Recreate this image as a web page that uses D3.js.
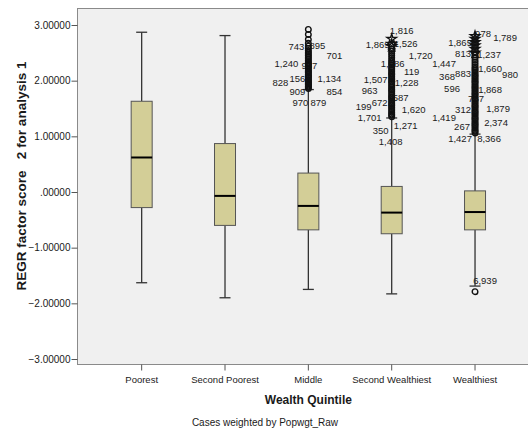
<!DOCTYPE html>
<html>
    <head>
        <title>Boxplot</title>
        <meta charset="utf-8">
        <style>
            html, body {
                margin: 0px;
                padding: 0px;
                background-color: #fff;
                font-family: Arial, "Liberation Sans", sans-serif;
            }

            svg text {
                fill: #1a1a1a;
            }

            .frame {
                fill: #f0f0f0;
                stroke: #8a8a8a;
            }

            .box {
                fill: #d3ce97;
                stroke: #555;
                stroke-width: 1;
            }

            .median {
                stroke: #000;
                stroke-width: 2;
            }

            .whisker {
                stroke: #333;
                stroke-width: 1.3;
            }

            .outlier {
                fill: none;
                stroke: #111;
                stroke-width: 1.4;
            }

            .caseLabel {
                font-size: 9.5px;
            }

            .tick line {
                stroke: #555;
            }

            .axisTitle {
                font-size: 12px;
                font-weight: bold;
            }
        </style>
        <script src="https://cdn.jsdelivr.net/npm/d3@7"></script>
    </head>
    <body>
        <div id="main">
        </div>

        <script>
            var quintiles = ["Poorest", "Second Poorest", "Middle", "Second Wealthiest", "Wealthiest"];
            var lowWhisker = [-1.63, -1.90, -1.75, -1.83, -1.69];
            var q1 = [-0.28, -0.60, -0.68, -0.75, -0.68];
            var medians = [0.62, -0.07, -0.25, -0.37, -0.36];
            var q3 = [1.63, 0.87, 0.34, 0.10, 0.02];
            var highWhisker = [2.87, 2.81, 1.84, 1.33, 1.04];
            var yTicks = [-3, -2, -1, 0, 1, 2, 3];

            // outliers drawn as circles, extremes as stars
            var outliers = [
                [],
                [],
                [1.86, 1.88, 1.90, 1.92, 1.94, 1.96, 1.98, 2.00, 2.02, 2.05, 2.07, 2.09, 2.11, 2.14, 2.16, 2.18,
                 2.21, 2.23, 2.26, 2.28, 2.31, 2.33, 2.36, 2.39, 2.42, 2.45, 2.48, 2.51, 2.54, 2.58, 2.62, 2.67,
                 2.74, 2.83, 2.92],
                [1.35, 1.38, 1.40, 1.43, 1.46, 1.49, 1.52, 1.55, 1.57, 1.60, 1.63, 1.66, 1.69, 1.71, 1.74, 1.77,
                 1.80, 1.83, 1.85, 1.88, 1.91, 1.94, 1.97, 1.99, 2.02, 2.05, 2.08, 2.11, 2.13, 2.16, 2.19, 2.22,
                 2.25, 2.28, 2.31, 2.34, 2.37, 2.41, 2.45, 2.49, 2.53, 2.57],
                [-1.79, 1.06, 1.09, 1.11, 1.14, 1.17, 1.20, 1.22, 1.25, 1.28, 1.31, 1.33, 1.36, 1.39, 1.42, 1.44,
                 1.47, 1.50, 1.53, 1.55, 1.58, 1.61, 1.64, 1.66, 1.69, 1.72, 1.75, 1.77, 1.80, 1.83, 1.86, 1.88,
                 1.91, 1.94, 1.97, 1.99, 2.02, 2.05, 2.08, 2.10, 2.13, 2.16, 2.19, 2.22, 2.25, 2.29, 2.33, 2.37,
                 2.42, 2.46]
            ];
            var extremes = [
                [],
                [],
                [],
                [2.62, 2.66, 2.75],
                [2.50, 2.57, 2.63, 2.69, 2.75, 2.80]
            ];

            // case ids shown next to the outliers: [id, value]
            var caseLabels = [
                [],
                [],
                [["743", 2.615], ["895", 2.63], ["701", 2.44], ["1,240", 2.31], ["937", 2.27], ["828", 1.96],
                 ["156", 2.03], ["1,134", 2.035], ["909", 1.81], ["854", 1.81], ["970", 1.61], ["879", 1.61]],
                [["1,816", 2.90], ["1,869", 2.64], ["1,526", 2.66], ["1,720", 2.45], ["1,086", 2.31], ["119", 2.17],
                 ["1,507", 2.02], ["1,228", 1.96], ["963", 1.82], ["199", 1.54], ["672", 1.61], ["587", 1.69],
                 ["1,620", 1.48], ["1,701", 1.33], ["1,271", 1.19], ["350", 1.11], ["1,408", 0.91]],
                [["1,865", 2.69], ["978", 2.85], ["1,789", 2.78], ["813", 2.49], ["1,237", 2.46], ["1,447", 2.30],
                 ["368", 2.08], ["883", 2.12], ["1,660", 2.22], ["980", 2.10], ["596", 1.86], ["1,868", 1.83],
                 ["787", 1.67], ["312", 1.48], ["1,879", 1.50], ["1,419", 1.33], ["267", 1.18], ["2,374", 1.25],
                 ["1,427", 0.96], ["8,366", 0.96], ["6,939", -1.59]]
            ];
            // horizontal nudge of each label (px), same order as caseLabels
            var labelNudge = [
                [],
                [],
                [-12, 9, 26, -22, 1, -28, -11, 21, -11, 26, -8, 10],
                [10, -14, 14, 29, 1, 20, -16, 15, -22, -28, -12, 9, 22, -22, 14, -11, -1],
                [-15, 8, 30, -12, 14, -31, -28, -12, 15, 35, -23, 15, 1, -12, 23, -31, -13, 21, -15, 14, 10]
            ];

            var width = 528;
            var height = 434;

            function chart(svg) {
                var x = d3.scaleBand()
                    .domain(quintiles)
                    .range([100, 516.7]);

                var y = d3.scaleLinear()
                    .domain([-3, 3])
                    .range([359, 25]);

                var boxW = 21;
                var capW = 11;

                svg.append("rect")
                    .attr("class", "frame")
                    .attr("x", 77.5)
                    .attr("y", 8.5)
                    .attr("width", 470)
                    .attr("height", 356);

                var yAxis = svg.append("g")
                    .attr("transform", "translate(77.5,0)")
                    .call(d3.axisLeft(y).tickValues(yTicks).tickSize(6)
                        .tickFormat(function(d) { return d === 0 ? ".00000" : d3.format(".5f")(d); }));
                yAxis.select(".domain").remove();
                yAxis.selectAll("text")
                    .attr("x", -7)
                    .style("font-size", "10px")
                    .style("font-family", "Arial, 'Liberation Sans', sans-serif");

                var xAxis = svg.append("g")
                    .attr("transform", "translate(0,364.5)")
                    .call(d3.axisBottom(x).tickSize(6));
                xAxis.select(".domain").remove();
                xAxis.selectAll("text")
                    .attr("y", 12)
                    .style("font-size", "9.5px")
                    .style("font-family", "Arial, 'Liberation Sans', sans-serif");

                var groups = svg.selectAll(".group")
                    .data(quintiles)
                    .enter()
                    .append("g")
                    .attr("class", "group")
                    .attr("transform", function(d) { return "translate(" + (x(d) + x.bandwidth() / 2) + ",0)"; });

                // whiskers
                groups.append("line")
                    .attr("class", "whisker")
                    .attr("x1", 0).attr("x2", 0)
                    .attr("y1", function(d, i) { return y(q3[i]); })
                    .attr("y2", function(d, i) { return y(highWhisker[i]); });
                groups.append("line")
                    .attr("class", "whisker")
                    .attr("x1", 0).attr("x2", 0)
                    .attr("y1", function(d, i) { return y(q1[i]); })
                    .attr("y2", function(d, i) { return y(lowWhisker[i]); });
                groups.append("line")
                    .attr("class", "whisker")
                    .attr("x1", -capW / 2).attr("x2", capW / 2)
                    .attr("y1", function(d, i) { return y(highWhisker[i]); })
                    .attr("y2", function(d, i) { return y(highWhisker[i]); });
                groups.append("line")
                    .attr("class", "whisker")
                    .attr("x1", -capW / 2).attr("x2", capW / 2)
                    .attr("y1", function(d, i) { return y(lowWhisker[i]); })
                    .attr("y2", function(d, i) { return y(lowWhisker[i]); });

                groups.append("rect")
                    .attr("class", "box")
                    .attr("x", -boxW / 2)
                    .attr("y", function(d, i) { return y(q3[i]); })
                    .attr("width", boxW)
                    .attr("height", function(d, i) { return y(q1[i]) - y(q3[i]); });

                groups.append("line")
                    .attr("class", "median")
                    .attr("x1", -boxW / 2).attr("x2", boxW / 2)
                    .attr("y1", function(d, i) { return y(medians[i]); })
                    .attr("y2", function(d, i) { return y(medians[i]); });

                // case labels go under the markers
                groups.each(function(d, i) {
                    d3.select(this).selectAll(".caseLabel")
                        .data(caseLabels[i])
                        .enter()
                        .append("text")
                        .attr("class", "caseLabel")
                        .attr("x", function(c, j) { return labelNudge[i][j]; })
                        .attr("y", function(c) { return y(c[1]); })
                        .attr("dy", "0.35em")
                        .style("text-anchor", "middle")
                        .text(function(c) { return c[0]; });
                });

                groups.each(function(d, i) {
                    d3.select(this).selectAll(".outlier")
                        .data(outliers[i])
                        .enter()
                        .append("circle")
                        .attr("class", "outlier")
                        .attr("cx", 0)
                        .attr("cy", function(v) { return y(v); })
                        .attr("r", 2.8);

                    d3.select(this).selectAll(".extreme")
                        .data(extremes[i])
                        .enter()
                        .append("path")
                        .attr("class", "outlier extreme")
                        .attr("transform", function(v) { return "translate(0," + y(v) + ")"; })
                        .attr("d", d3.symbol().type(d3.symbolStar).size(28));
                });

                svg.append("text")
                    .attr("class", "axisTitle")
                    .attr("transform", "translate(21,176) rotate(-90)")
                    .attr("dy", "0.35em")
                    .style("font-size", "13.5px")
                    .style("text-anchor", "middle")
                    .style("white-space", "pre")
                    .text("REGR factor score   2 for analysis 1");

                svg.append("text")
                    .attr("class", "axisTitle")
                    .attr("x", x("Middle") + x.bandwidth() / 2)
                    .attr("y", 400)
                    .attr("dy", "0.35em")
                    .style("text-anchor", "middle")
                    .text("Wealth Quintile");

                svg.append("text")
                    .attr("x", 265)
                    .attr("y", 422)
                    .attr("dy", "0.35em")
                    .style("font-size", "10px")
                    .style("text-anchor", "middle")
                    .text("Cases weighted by Popwgt_Raw");
            }

            function main() {
                var svg = d3.select("#main")
                    .append("svg")
                    .attr("width", width)
                    .attr("height", height);
                chart(svg);
            }

            main();
        </script>
    </body>
</html>
